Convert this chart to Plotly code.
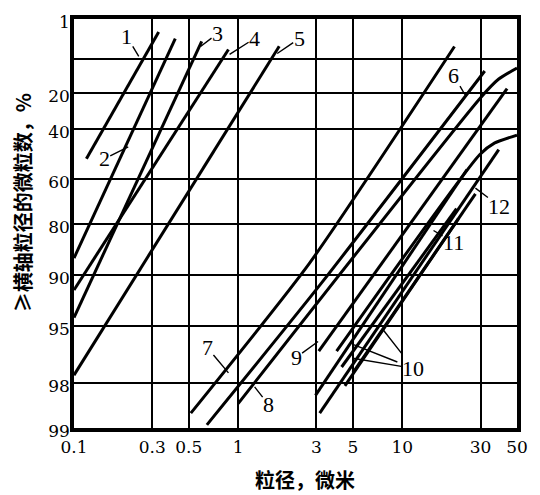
import numpy as np
import plotly.graph_objects as go

# ---- axis definitions -------------------------------------------------
# probability-paper rulings of the original chart (percent) and their spacing
Y_TICK_PCT = [1, 10, 20, 40, 60, 80, 90, 95, 98, 99]
Y_TICK_TEXT = ["1", "", "20", "40", "60", "80", "90", "95", "98", "99"]
Y_GRID_POS = [0, 41, 75, 112, 163, 209, 260, 312, 370, 416]

X_TICKS = [0.1, 0.3, 0.5, 1, 3, 5, 10, 30, 50]
X_TICK_TEXT = ["0.1", "0.3", "0.5", "1", "3", "5", "10", "30", "50"]

# ---- curves: particle size (micron) vs cumulative percent --------------
c1_x = [0.119, 0.328];            c1_y = [51.8, 3.9]
c2_x = [0.1, 0.414];              c2_y = [86.7, 5.4]
c3_x = [0.1, 0.60];               c3_y = [94.2, 6.0]
c4_x = [0.1, 0.873];              c4_y = [91.5, 7.8]
c5_x = [0.1, 1.78];               c5_y = [97.6, 7.1]
c6_x = [0.645, 3.17, 31.8];       c6_y = [98.93, 90.96, 13.5]
c7_x = [0.515, 2.71, 20.8];       c7_y = [98.67, 87.8, 7.15]
c8_x = [1.0, 30.0, 38.7, 50.0];   c8_y = [98.46, 22.7, 15.9, 12.6]
c9_x = [3.10, 43.5];              c9_y = [96.34, 18.8]
c10a_x = [3.98, 29.6, 36.6, 50.0]; c10a_y = [96.34, 50.2, 45.5, 42.4]
c10b_x = [4.27, 21.4];            c10b_y = [97.17, 73.0]
c10c_x = [5.0, 27.9];             c10c_y = [97.48, 66.5]
c11_x = [4.47, 22.0];             c11_y = [98.07, 77.4]
c12_x = [3.14, 38.7];             c12_y = [98.67, 48.2]
cx_x = [2.96, 24.8];              cx_y = [98.28, 56.1]

curves = [
    (c1_x, c1_y), (c2_x, c2_y), (c3_x, c3_y), (c4_x, c4_y), (c5_x, c5_y),
    (c6_x, c6_y), (c7_x, c7_y), (c8_x, c8_y), (c9_x, c9_y),
    (c10a_x, c10a_y), (c10b_x, c10b_y), (c10c_x, c10c_y),
    (c11_x, c11_y), (c12_x, c12_y), (cx_x, cx_y),
]

# curve labels: text, anchor size (micron), anchor percent
label_text = ["1", "2", "3", "4", "5", "6", "7", "8", "9", "10", " ", " ", "11", "12"]
label_x = [0.248, 0.214, 0.59, 0.887, 1.73, 24.1, 0.873, 1.26, 3.07, 5.0, 5.0, 7.62, 15.5, 27.9]
label_y = [9.34, 47.1, 7.15, 8.9, 8.7, 21.1, 97.48, 98.09, 95.83, 96.71, 95.98, 95.2, 81.2, 63.9]
label_off = [(-12, -20), (-24, 12), (17, -13), (25, -16), (22, -15), (-11, -19),
             (-21, -25), (14, 18), (-22, 16), (60, 10), (48, 19), (22, 28), (20, 12), (24, 18)]


def ypos(p):
    return np.interp(p, Y_TICK_PCT, Y_GRID_POS)


fig = go.Figure()
for xs, ys in curves:
    fig.add_trace(go.Scatter(
        x=xs, y=ypos(ys), mode="lines",
        line=dict(color="black", width=3,
                  shape="spline" if len(xs) > 2 else "linear", smoothing=0.6),
        hoverinfo="skip", showlegend=False))

annotations = []
for t, lx, ly, (dx, dy) in zip(label_text, label_x, label_y, label_off):
    annotations.append(dict(
        x=np.log10(lx), y=float(ypos(ly)), xref="x", yref="y", text=t,
        showarrow=True, arrowhead=0, arrowwidth=1.4, arrowcolor="black",
        ax=dx, ay=dy, standoff=0, borderpad=0,
        font=dict(family="Liberation Serif", size=22, color="black")))

annotations.append(dict(
    x=0.521, y=-0.125, xref="paper", yref="paper", text="<b>粒径，微米</b>",
    xanchor="center", yanchor="middle",
    showarrow=False, font=dict(family="Noto Sans CJK SC", size=20, color="black")))
annotations.append(dict(
    x=-0.117, y=0.55, xref="paper", yref="paper", text="<b>≥横轴粒径的微粒数，%</b>",
    xanchor="center", yanchor="middle",
    textangle=-90, showarrow=False,
    font=dict(family="Noto Sans CJK SC", size=20, color="black")))

axis_common = dict(
    showgrid=True, gridcolor="black", gridwidth=2.2,
    showline=True, mirror=True, linecolor="black", linewidth=3.5,
    ticks="", zeroline=False,
)

fig.update_layout(
    width=540, height=495,
    margin=dict(l=74, r=13, t=12, b=67),
    plot_bgcolor="white", paper_bgcolor="white",
    showlegend=False,
    annotations=annotations,
    xaxis=dict(type="log", range=[-1, np.log10(50)], tickvals=X_TICKS,
               ticktext=X_TICK_TEXT, ticklabelstandoff=1,
               tickfont=dict(family="DejaVu Serif", size=17, color="black"),
               **axis_common),
    yaxis=dict(range=[Y_GRID_POS[-1], Y_GRID_POS[0]],
               tickvals=list(ypos(Y_TICK_PCT)), ticktext=Y_TICK_TEXT,
               ticklabelstandoff=-3, ticklabelshift=-3,
               tickfont=dict(family="DejaVu Serif", size=17, color="black"),
               **axis_common),
)

fig.write_html("out.html")
